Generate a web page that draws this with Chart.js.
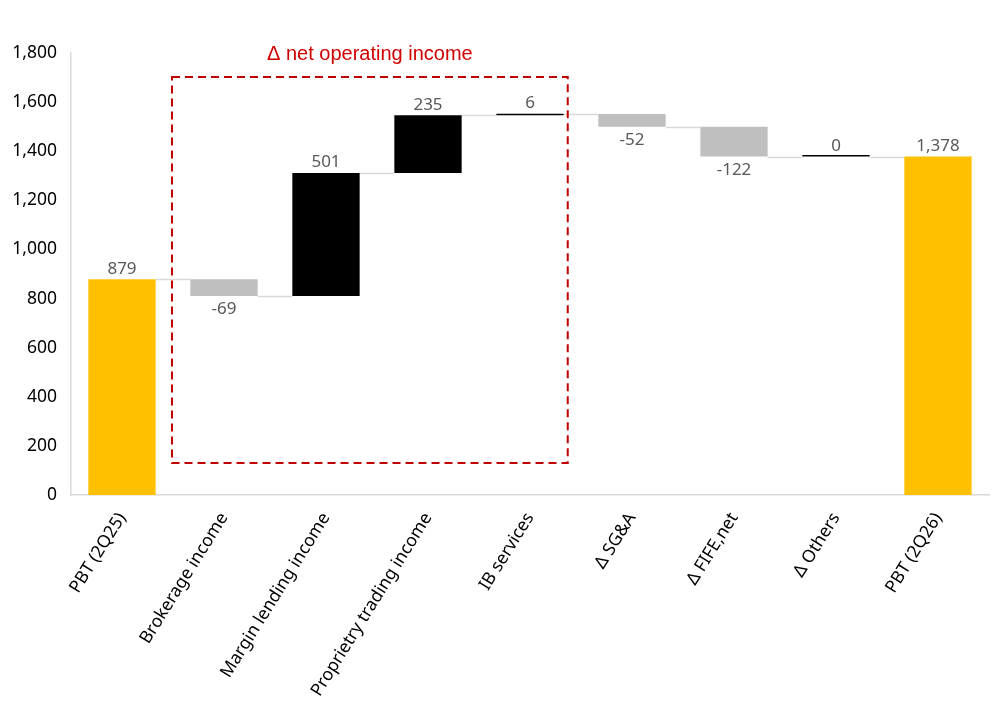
<!DOCTYPE html>
<html>
<head>
<meta charset="utf-8">
<script src="https://cdn.jsdelivr.net/npm/chart.js@4.4.1/dist/chart.umd.min.js"></script>
<style>
  html, body { margin: 0; padding: 0; background: #fff; }
  #wrap { width: 1003px; height: 723px; position: relative; }
</style>
</head>
<body>
<div id="wrap"><canvas id="chart" width="1003" height="723"></canvas></div>
<script>
  // waterfall data
  const categories = ['PBT (2Q25)', 'Brokerage income', 'Margin lending income', 'Proprietry trading income',
    'IB services', '\u0394 SG&A', '\u0394 FIFE,net', '\u0394 Others', 'PBT (2Q26)'];
  const changes = [879, -69, 501, 235, 6, -52, -122, 0, 1378];
  const isTotal = [true, false, false, false, false, false, false, false, true];
  const yTicks = [0, 200, 400, 600, 800, 1000, 1200, 1400, 1600, 1800];

  // dashed box round the operating income items (category index span, value span)
  const boxCats = [0.49, 4.37];
  const boxVals = [130, 1702];
  const boxTitle = '\u0394 net operating income';

  // build floating bars
  const floats = [];
  let run = 0;
  changes.forEach((v, i) => {
    if (isTotal[i]) { floats.push([0, v]); run = v; }
    else { floats.push([run, run + v]); run += v; }
  });
  const colors = changes.map((v, i) => isTotal[i] ? '#FFC000' : (v < 0 ? '#BFBFBF' : '#000000'));

  const fmt = n => n.toLocaleString('en-US');
  const font = '"Noto Sans", "Open Sans", sans-serif';

  const waterfallExtras = {
    id: 'waterfallExtras',
    beforeDatasetsDraw(chart) {
      const ctx = chart.ctx;
      const meta = chart.getDatasetMeta(0);
      const y = chart.scales.y;
      ctx.save();
      ctx.strokeStyle = '#D9D9D9';
      ctx.lineWidth = 1.5;
      for (let i = 0; i < floats.length - 1; i++) {
        const a = meta.data[i], b = meta.data[i + 1];
        const py = Math.round(y.getPixelForValue(floats[i][1])) + 0.5;
        ctx.beginPath();
        ctx.moveTo(a.x + a.width / 2, py);
        ctx.lineTo(b.x - b.width / 2, py);
        ctx.stroke();
      }
      ctx.restore();
    },
    afterDatasetsDraw(chart) {
      const ctx = chart.ctx;
      const meta = chart.getDatasetMeta(0);
      const x = chart.scales.x, y = chart.scales.y;
      ctx.save();
      // value labels
      ctx.font = '17px ' + font;
      ctx.fillStyle = '#595959';
      ctx.textAlign = 'center';
      changes.forEach((v, i) => {
        const bar = meta.data[i];
        const top = y.getPixelForValue(Math.max(floats[i][0], floats[i][1]));
        const bot = y.getPixelForValue(Math.min(floats[i][0], floats[i][1]));
        if (v < 0) {
          ctx.textBaseline = 'top';
          ctx.fillText(fmt(v), bar.x, bot + 5);
        } else {
          ctx.textBaseline = 'bottom';
          ctx.fillText(fmt(v), bar.x, top - 2);
        }
      });
      // dashed box
      const x0 = x.getPixelForValue(boxCats[0]), x1 = x.getPixelForValue(boxCats[1]);
      const y0 = y.getPixelForValue(boxVals[1]), y1 = y.getPixelForValue(boxVals[0]);
      ctx.strokeStyle = '#C00000';
      ctx.lineWidth = 2;
      ctx.setLineDash([8, 5]);
      ctx.strokeRect(x0, y0, x1 - x0, y1 - y0);
      ctx.setLineDash([]);
      ctx.font = '20px "Liberation Sans", Arial, sans-serif';
      ctx.fillStyle = '#D00000';
      ctx.textAlign = 'center';
      ctx.textBaseline = 'middle';
      ctx.fillText(boxTitle, (x0 + x1) / 2, 54);
      ctx.restore();
    }
  };

  new Chart(document.getElementById('chart'), {
    type: 'bar',
    data: {
      labels: categories,
      datasets: [{
        data: floats,
        backgroundColor: colors,
        borderWidth: 0,
        minBarLength: 1.5,
        barPercentage: 0.66,
        categoryPercentage: 1.0
      }]
    },
    options: {
      responsive: false,
      animation: false,
      events: [],
      layout: { padding: { top: 53, right: 14, left: 0, bottom: 0 } },
      plugins: { legend: { display: false }, tooltip: { enabled: false } },
      scales: {
        x: {
          grid: { display: false, drawTicks: false },
          border: { color: '#D9D9D9', width: 1.5 },
          ticks: {
            color: '#000',
            font: { family: font, size: 17.5 },
            maxRotation: 58, minRotation: 58,
            padding: 14,
            autoSkip: false
          },
          afterFit: s => { s.height = 228; }
        },
        y: {
          min: 0, max: 1800,
          afterBuildTicks: s => { s.ticks = yTicks.map(v => ({ value: v })); },
          grid: { display: false, drawTicks: false },
          border: { color: '#D9D9D9', width: 1.5 },
          ticks: {
            color: '#000',
            font: { family: font, size: 17.5 },
            padding: 14,
            callback: v => fmt(v)
          },
          afterFit: s => { s.width = 71; }
        }
      }
    },
    plugins: [waterfallExtras]
  });
</script>
</body>
</html>
